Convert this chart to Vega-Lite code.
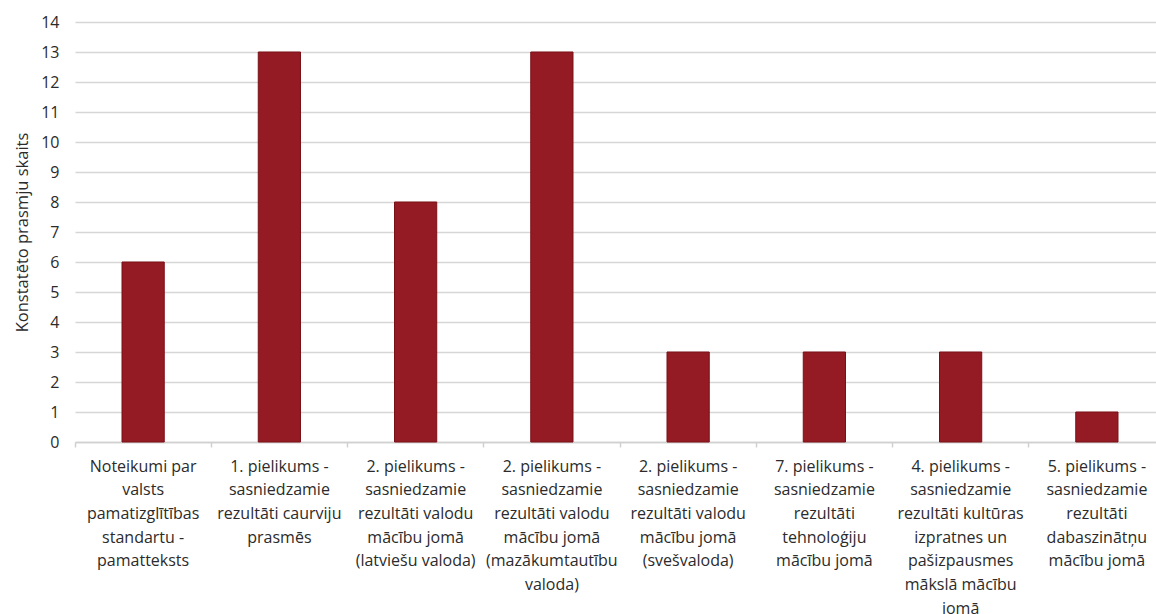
{
  "$schema": "https://vega.github.io/schema/vega-lite/v6.json",
  "width": 1081,
  "height": 420,
  "autosize": "none",
  "padding": {"left": 75, "top": 22, "right": 0, "bottom": 172},
  "background": "white",
  "config": {
    "view": {"stroke": null},
    "font": "Open Sans",
    "axis": {"labelColor": "#2B2B2B", "titleColor": "#2B2B2B", "labelFont": "Open Sans", "titleFont": "Open Sans"}
  },
  "data": {
    "values": [
      {"order": 1, "label": "Noteikumi par\nvalsts\npamatizglītības\nstandartu -\npamatteksts", "count": 6},
      {"order": 2, "label": "1. pielikums -\nsasniedzamie\nrezultāti caurviju\nprasmēs", "count": 13},
      {"order": 3, "label": "2. pielikums -\nsasniedzamie\nrezultāti valodu\nmācību jomā\n(latviešu valoda)", "count": 8},
      {"order": 4, "label": "2. pielikums -\nsasniedzamie\nrezultāti valodu\nmācību jomā\n(mazākumtautību\nvaloda)", "count": 13},
      {"order": 5, "label": "2. pielikums -\nsasniedzamie\nrezultāti valodu\nmācību jomā\n(svešvaloda)", "count": 3},
      {"order": 6, "label": "7. pielikums -\nsasniedzamie\nrezultāti\ntehnoloģiju\nmācību jomā", "count": 3},
      {"order": 7, "label": "4. pielikums -\nsasniedzamie\nrezultāti kultūras\nizpratnes un\npašizpausmes\nmākslā mācību\njomā", "count": 3},
      {"order": 8, "label": "5. pielikums -\nsasniedzamie\nrezultāti\ndabaszinātņu\nmācību jomā", "count": 1}
    ]
  },
  "mark": {"type": "bar", "width": {"band": 0.31}, "color": "#941B23", "stroke": "#7A1017", "strokeWidth": 1},
  "encoding": {
    "x": {
      "field": "label",
      "type": "nominal",
      "sort": {"field": "order"},
      "scale": {"range": [0, 1090], "paddingInner": 0, "paddingOuter": 0},
      "axis": {
        "title": null,
        "labelAngle": 0,
        "labelExpr": "split(datum.label, '\\n')",
        "labelFontSize": 16,
        "labelLineHeight": 23.7,
        "labelPadding": 11,
        "labelBaseline": "top",
        "labelLimit": 200,
        "bandPosition": 0,
        "domainColor": "#D0D0D0",
        "domainWidth": 1.5,
        "tickColor": "#D0D0D0",
        "tickWidth": 1.5,
        "tickSize": 5,
        "grid": false
      }
    },
    "y": {
      "field": "count",
      "type": "quantitative",
      "scale": {"domain": [0, 14], "nice": false},
      "axis": {
        "title": "Konstatēto prasmju skaits",
        "titleFontSize": 16.5,
        "titleFontWeight": "normal",
        "titlePadding": 10,
        "values": [0, 1, 2, 3, 4, 5, 6, 7, 8, 9, 10, 11, 12, 13, 14],
        "labelFontSize": 16,
        "labelPadding": 16,
        "domain": false,
        "ticks": false,
        "grid": true,
        "gridColor": "#D6D6D6",
        "gridWidth": 1.5
      }
    }
  }
}
